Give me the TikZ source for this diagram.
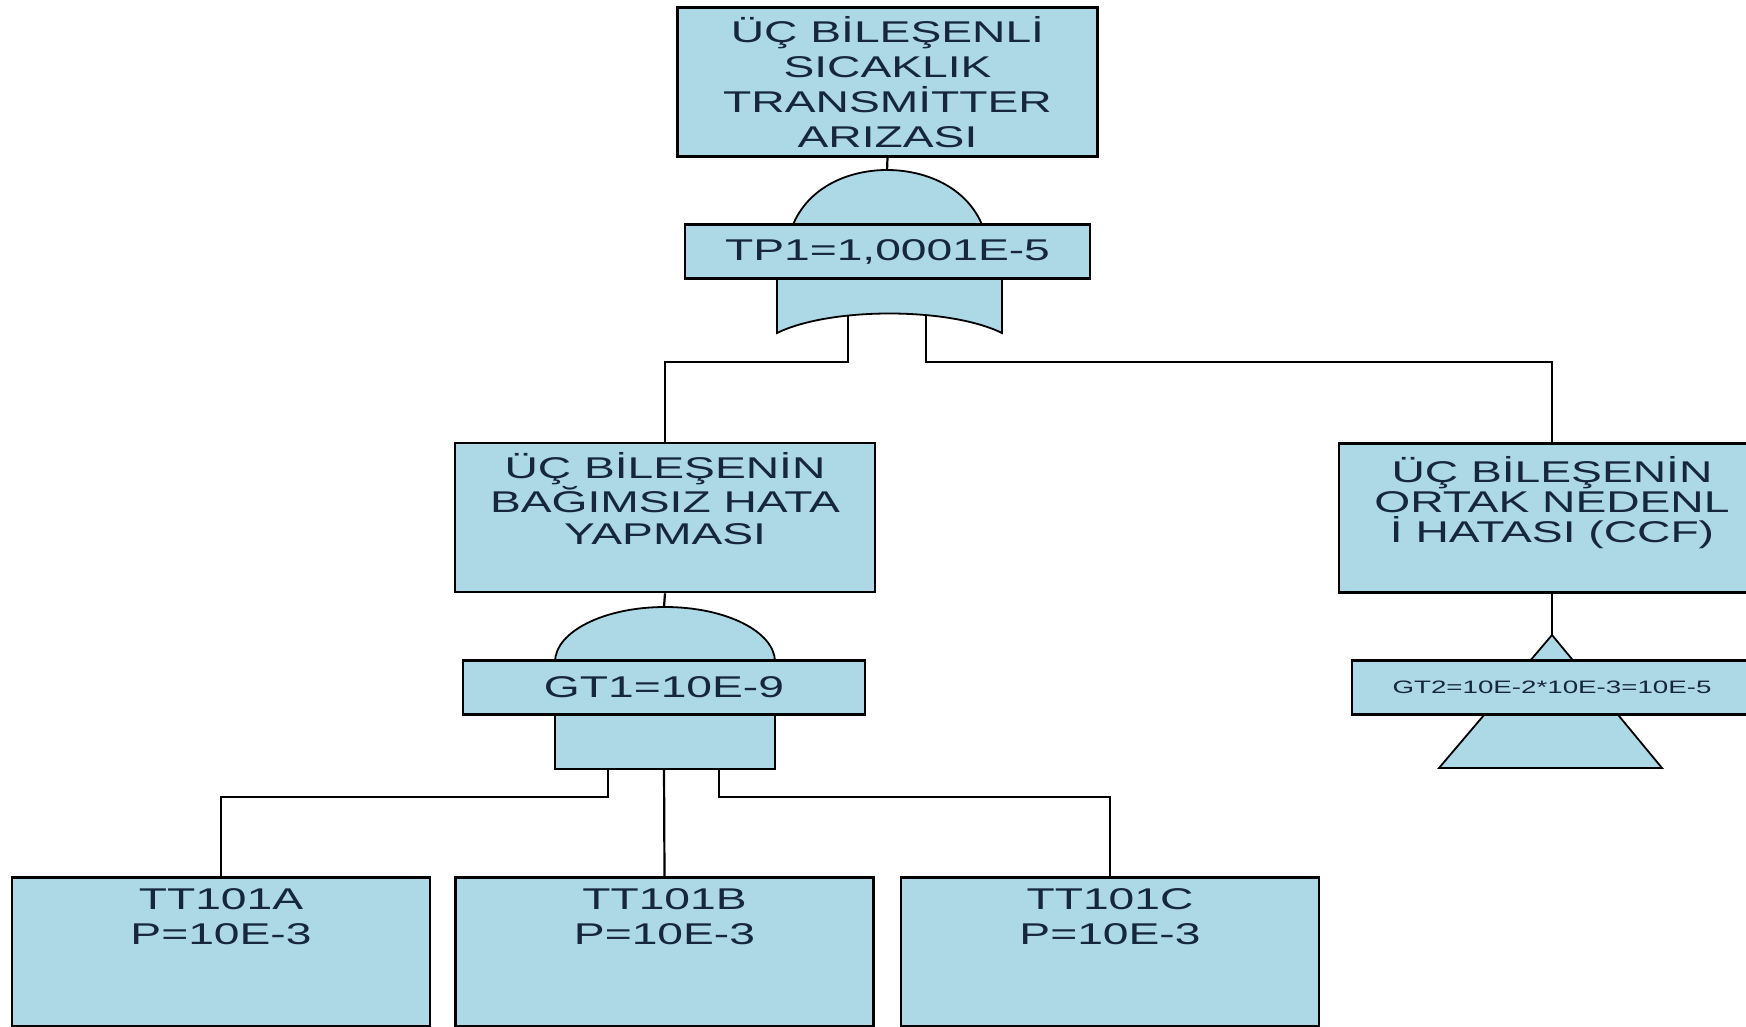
\documentclass[tikz,border=0pt]{standalone}
\usepackage{fontspec}
\newfontfamily\ftafont[FakeStretch=1.54]{Liberation Sans}
\usepackage{tikz}
\usetikzlibrary{positioning,calc}
\definecolor{ftafill}{RGB}{173,216,230}
\definecolor{ftatext}{RGB}{22,38,60}

\begin{document}
\begin{tikzpicture}[
    x=1pt, y=-1pt,
    event/.style={draw=black, line width=2.6pt, rectangle, fill=ftafill, minimum width=420pt, minimum height=149pt, inner sep=0pt, align=center, text=ftatext, font=\ftafont\fontsize{30}{35}\selectfont},
    txt/.style={inner sep=0pt, align=center, text=ftatext, font=\ftafont\fontsize{30}{33}\selectfont},
    gatelabel/.style={draw=black, line width=2.6pt, rectangle, fill=ftafill, minimum height=54pt, inner sep=0pt, text=ftatext, font=\ftafont\fontsize{30}{33}\selectfont},
    gatebody/.style={draw=black, line width=1.8pt, fill=ftafill},
    wire/.style={draw=black, line width=2.2pt}
]
    \useasboundingbox (0,0) rectangle (1746,1027);
    \clip (0,0) rectangle (1746,1027);

    % events
    \node[event] (top) at (887.5,82) {ÜÇ BİLEŞENLİ\\SICAKLIK\\TRANSMİTTER\\ARIZASI};
    \node[event] (indep) at (665,517.5) {};
    \node[event, minimum width=426pt] (ccf) at (1552,518) {};
    \node[event, minimum width=418pt] (tta) at (221,952) {};
    \node[event, minimum width=418pt] (ttb) at (664.5,952) {};
    \node[event, minimum width=418pt] (ttc) at (1110,952) {};

    \node[txt, font=\ftafont\fontsize{30}{32}\selectfont, below=11pt of indep.north] (indeptxt) {ÜÇ BİLEŞENİN\\BAĞIMSIZ HATA\\YAPMASI};
    \node[txt, font=\ftafont\fontsize{30}{30}\selectfont, below=14pt of ccf.north] (ccftxt) {ÜÇ BİLEŞENİN\\ORTAK NEDENL\\İ HATASI (CCF)};
    \node[txt, font=\ftafont\fontsize{30}{35}\selectfont, below=12pt of tta.north] (ttatxt) {TT101A\\P=10E-3};
    \node[txt, font=\ftafont\fontsize{30}{35}\selectfont, below=12pt of ttb.north] (ttbtxt) {TT101B\\P=10E-3};
    \node[txt, font=\ftafont\fontsize{30}{35}\selectfont, below=12pt of ttc.north] (ttctxt) {TT101C\\P=10E-3};

    % gate ends
    \coordinate (orout) at (887,171);
    \coordinate (orin1) at (848,316);
    \coordinate (orin2) at (926,316);
    \coordinate (andout) at (664,607);
    \coordinate (andin1) at (608,766);
    \coordinate (andin2) at (664,766);
    \coordinate (andin3) at (719,766);
    \coordinate (trfin) at (1552,636);

    % connectors
    \draw[wire] (top.south) -- (orout);
    \draw[wire] (orin1) -- ++(0,46) -| (indep.north);
    \draw[wire] (orin2) -- ++(0,46) -| (ccf.north);
    \draw[wire] (indep.south) -- (andout);
    \draw[wire] (andin1) -- ++(0,31) -| (tta.north);
    \draw[wire] (andin2) -- (ttb.north);
    \draw[wire] (andin3) -- ++(0,31) -| (ttc.north);
    \draw[wire] (ccf.south) -- (trfin);

    % OR gate
    \draw[gatebody] (792,227) .. controls (808,186) and (850,170) .. (887,170) .. controls (924,170) and (967,186) .. (983,227) -- cycle;
    \draw[gatebody] (777,276) -- (777,333) .. controls (830,307) and (949,307) .. (1002,333) -- (1002,276) -- cycle;
    % AND gate
    \draw[gatebody] (555,662) arc[start angle=180, end angle=0, x radius=110pt, y radius=55pt] -- cycle;
    \draw[gatebody] (555,713) rectangle (775,769);
    % transfer triangle
    \draw[gatebody] (1552,635) -- (1439,768) -- (1662,768) -- cycle;

    \node[gatelabel, minimum width=405pt] (tp1) at (887.5,251.5) {TP1=1,0001E-5};
    \node[gatelabel, minimum width=402pt] (gt1) at (664,687.5) {GT1=10E-9};
    \node[gatelabel, minimum width=400pt, font=\ftafont\fontsize{18}{20}\selectfont] (gt2) at (1552,687.5) {GT2=10E-2*10E-3=10E-5};
\end{tikzpicture}
\end{document}
